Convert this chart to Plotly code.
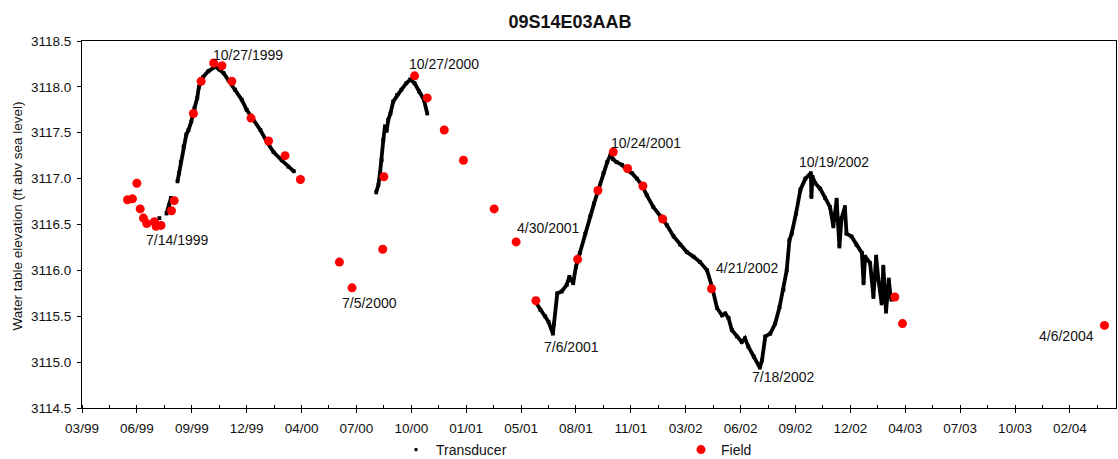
import plotly.graph_objects as go

# ---------------- data ----------------
field_dates = [
    "1999-05-23", "1999-06-01", "1999-06-09", "1999-06-15", "1999-06-21", "1999-06-27",
    "1999-07-11", "1999-07-14", "1999-07-23", "1999-08-11", "1999-08-16", "1999-09-20",
    "1999-10-04", "1999-10-27", "1999-11-11", "1999-11-29", "2000-01-03", "2000-02-04",
    "2000-03-05", "2000-04-02", "2000-06-12", "2000-07-05", "2000-08-30", "2000-09-01",
    "2000-10-27", "2000-11-19", "2000-12-20", "2001-01-24", "2001-03-21", "2001-04-30",
    "2001-06-05", "2001-08-20", "2001-09-26", "2001-10-24", "2001-11-19", "2001-12-17",
    "2002-01-22", "2002-04-21", "2003-03-21", "2003-04-04", "2004-04-06",
]
field_values = [
    3116.77, 3116.78, 3116.95, 3116.67, 3116.57, 3116.51,
    3116.53, 3116.48, 3116.49, 3116.65, 3116.76, 3117.71,
    3118.06, 3118.26, 3118.23, 3118.06, 3117.66, 3117.41,
    3117.25, 3116.99, 3116.09, 3115.81, 3116.23, 3117.02,
    3118.12, 3117.88, 3117.53, 3117.20, 3116.67, 3116.31,
    3115.67, 3116.12, 3116.87, 3117.29, 3117.11, 3116.92,
    3116.56, 3115.80, 3115.71, 3115.42, 3115.40,
]

# transducer record (None marks a gap in the record)
trans_dates = [
    "1999-07-20", None,
    "1999-08-02", "1999-08-07", "1999-08-10", None,
    "1999-08-22", "1999-08-25", "1999-08-28", "1999-09-02", "1999-09-07", "1999-09-11",
    "1999-09-16", "1999-09-22", "1999-09-27", "1999-09-30", "1999-10-08", "1999-10-17",
    "1999-10-30", "1999-11-06", "1999-11-14", "1999-11-23", "1999-12-05", "1999-12-17",
    "1999-12-26", "2000-01-07", "2000-01-20", "2000-02-01", "2000-02-13", "2000-02-28",
    "2000-03-11", "2000-03-21", None,
    "2000-08-18", "2000-08-22", "2000-08-25", "2000-08-28", "2000-08-31", "2000-09-03",
    "2000-09-06", "2000-09-09", "2000-09-13", "2000-09-18", "2000-09-25", "2000-10-03",
    "2000-10-12", "2000-10-19", "2000-10-27", "2000-11-04", "2000-11-13", "2000-11-19", None,
    "2001-06-05", "2001-06-13", "2001-06-22", "2001-06-28", "2001-07-06", "2001-07-08",
    "2001-07-14", "2001-07-22", "2001-07-31", "2001-08-05", "2001-08-12", "2001-08-17",
    "2001-08-24", "2001-09-03", "2001-09-12", "2001-09-19", "2001-09-27", "2001-10-06",
    "2001-10-13", "2001-10-19", "2001-10-24", "2001-10-30", "2001-11-09", "2001-11-18",
    "2001-11-27", "2001-12-06", "2001-12-15", "2001-12-24", "2002-01-05", "2002-01-18",
    "2002-01-30", "2002-02-11", "2002-02-23", "2002-03-07", "2002-03-19", "2002-03-31",
    "2002-04-13", "2002-04-22", "2002-05-01", "2002-05-10", "2002-05-16", "2002-05-22",
    "2002-05-28", "2002-06-06", "2002-06-15", "2002-06-21", "2002-06-27", "2002-07-07",
    "2002-07-18", "2002-07-22", "2002-07-28", "2002-08-06", "2002-08-15", "2002-08-23",
    "2002-08-30", "2002-09-05", "2002-09-10", "2002-09-14", "2002-09-22", "2002-09-30",
    "2002-10-09", "2002-10-19", "2002-10-20", "2002-10-22", "2002-10-27", "2002-11-05",
    "2002-11-14", "2002-11-23", "2002-11-29", "2002-12-05", "2002-12-10", "2002-12-14",
    "2002-12-20", "2002-12-23", "2003-01-01", "2003-01-10", "2003-01-20", "2003-01-23",
    "2003-01-26", "2003-02-04", "2003-02-10", "2003-02-15", "2003-02-19", "2003-02-25",
    "2003-02-28", "2003-03-05", "2003-03-10", "2003-03-13", "2003-03-15",
]
trans_values = [
    3116.57, None,
    3116.62, 3116.71, 3116.79, None,
    3116.97, 3117.06, 3117.18, 3117.35, 3117.48, 3117.53,
    3117.62, 3117.77, 3117.88, 3118.00, 3118.11, 3118.17,
    3118.22, 3118.19, 3118.15, 3118.07, 3117.97, 3117.86,
    3117.75, 3117.64, 3117.53, 3117.40, 3117.29, 3117.20,
    3117.13, 3117.08, None,
    3116.85, 3116.93, 3117.06, 3117.20, 3117.42, 3117.57,
    3117.52, 3117.64, 3117.71, 3117.84, 3117.91, 3117.97,
    3118.04, 3118.08, 3118.04, 3117.95, 3117.86, 3117.71, None,
    3115.65, 3115.57, 3115.50, 3115.44, 3115.31, 3115.42,
    3115.75, 3115.77, 3115.84, 3115.93, 3115.86, 3116.04,
    3116.19, 3116.40, 3116.59, 3116.73, 3116.88, 3117.06,
    3117.18, 3117.26, 3117.21, 3117.18, 3117.15, 3117.09,
    3117.06, 3117.00, 3116.93, 3116.82, 3116.69, 3116.59,
    3116.49, 3116.37, 3116.28, 3116.20, 3116.15, 3116.09,
    3116.00, 3115.82, 3115.59, 3115.51, 3115.53, 3115.48,
    3115.35, 3115.28, 3115.22, 3115.26, 3115.17, 3115.06,
    3114.94, 3115.02, 3115.28, 3115.31, 3115.42, 3115.60,
    3115.79, 3116.00, 3116.33, 3116.40, 3116.62, 3116.88,
    3117.00, 3117.06, 3116.80, 3117.02, 3116.95, 3116.89,
    3116.79, 3116.69, 3116.48, 3116.77, 3116.26, 3116.57,
    3116.69, 3116.40, 3116.37, 3116.28, 3116.19, 3115.86,
    3116.15, 3116.08, 3115.71, 3116.15, 3115.90, 3115.64,
    3116.04, 3115.55, 3115.90, 3115.73, 3115.68,
]

label_texts = ["10/27/1999", "7/14/1999", "10/27/2000", "7/5/2000", "4/30/2001",
               "10/24/2001", "7/6/2001", "4/21/2002", "7/18/2002", "10/19/2002", "4/6/2004"]
label_x = ["1999-12-29", "1999-08-21", "2000-12-20", "2000-08-05", "2001-06-27",
           "2001-12-22", "2001-08-08", "2002-06-25", "2002-08-29", "2002-11-30", "2004-01-28"]
label_y = [3118.35, 3116.33, 3118.25, 3115.64, 3116.46,
           3117.39, 3115.17, 3116.03, 3114.84, 3117.18, 3115.28]

x_start = "1999-03-01"
x_end = "2004-04-27"
y_min, y_max = 3114.5, 3118.5
DAY_MS = 86400000

FONT = "Arial, Liberation Sans, sans-serif"

fig = go.Figure()

# legend-only entry for the transducer record (small dot as in the original legend)
fig.add_trace(go.Scatter(
    x=[None], y=[None], mode="markers", name="Transducer",
    marker=dict(color="black", size=3, symbol="square"),
))
fig.add_trace(go.Scatter(
    x=trans_dates, y=trans_values, mode="lines+markers", name="Transducer",
    line=dict(color="black", width=3.8), marker=dict(color="black", size=3.8, symbol="square"),
    connectgaps=False, showlegend=False,
))
fig.add_trace(go.Scatter(
    x=field_dates, y=field_values, mode="markers", name="Field",
    marker=dict(color="#ff0000", size=9),
))

for t, lx, ly in zip(label_texts, label_x, label_y):
    fig.add_annotation(x=lx, y=ly, xref="x", yref="y", text=t, showarrow=False,
                       font=dict(family=FONT, size=14, color="#111"))

fig.add_annotation(x=-0.0624, y=0.523, xref="paper", yref="paper", xanchor="center",
                   yanchor="middle", text="Water table elevation (ft abv sea level)",
                   textangle=-90, showarrow=False,
                   font=dict(family=FONT, size=13.5, color="#111"))

fig.update_layout(
    width=1118, height=459,
    margin=dict(l=82, r=2, t=41, b=51, autoexpand=False),
    paper_bgcolor="white", plot_bgcolor="white",
    font=dict(family=FONT, size=13.5, color="#111"),
    title=dict(text="<b>09S14E03AAB</b>", x=570 / 1118, xanchor="center", xref="container",
               y=1 - 21.7 / 459, yanchor="middle", yref="container",
               font=dict(family=FONT, size=18, color="#111")),
    legend=dict(orientation="h", x=(396 - 82) / 1034, xanchor="left", y=(408 - 450) / 367,
                yanchor="middle", entrywidth=240, entrywidthmode="pixels",
                font=dict(family=FONT, size=14, color="#111"), bgcolor="rgba(0,0,0,0)"),
    showlegend=True,
)

fig.update_xaxes(
    type="date", range=[x_start, x_end], tick0=x_start, dtick=100 * DAY_MS, tickformat="%m/%y",
    ticks="outside", ticklen=4, tickcolor="black", showline=True, linecolor="black", linewidth=1,
    mirror=True, showgrid=False, zeroline=False, ticklabelstandoff=4,
    minor=dict(tick0=x_start, dtick=50 * DAY_MS, ticks="inside", ticklen=3, tickcolor="black",
               showgrid=False),
)
fig.update_yaxes(
    range=[y_min, y_max], tick0=y_min, dtick=0.5, tickformat=".1f",
    ticks="outside", ticklen=4, tickcolor="black", showline=True, linecolor="black", linewidth=1,
    mirror=True, showgrid=False, zeroline=False, ticklabelstandoff=3,
)

fig.write_html("out.html")
